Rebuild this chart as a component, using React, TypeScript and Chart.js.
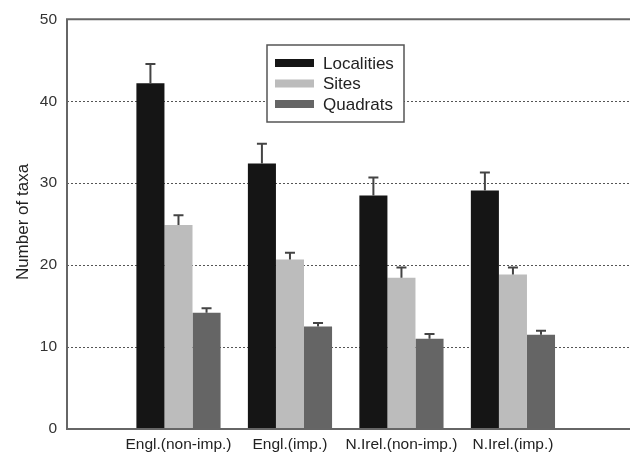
import React, { useEffect, useRef } from "react";
import { Chart, registerables } from "chart.js";

Chart.register(...registerables);

const categories = ["Engl.(non-imp.)", "Engl.(imp.)", "N.Irel.(non-imp.)", "N.Irel.(imp.)"];
const seriesNames = ["Localities", "Sites", "Quadrats"];
const localities = [42.2, 32.4, 28.5, 29.1];
const localitiesErr = [2.35, 2.4, 2.2, 2.2];
const sites = [24.9, 20.7, 18.45, 18.85];
const sitesErr = [1.2, 0.8, 1.25, 0.85];
const quadrats = [14.2, 12.5, 11.0, 11.5];
const quadratsErr = [0.55, 0.45, 0.6, 0.5];
const yTicks = [0, 10, 20, 30, 40, 50];
const gridValues = [10, 20, 30, 40];

const colors = ["#151515", "#bcbcbc", "#656565"];
const FONT = "Liberation Sans, Arial, sans-serif";

export default function App() {
  const ref = useRef<HTMLCanvasElement | null>(null);
  useEffect(() => {
    const canvas = ref.current;
    if (!canvas) return;
    const errs = [localitiesErr, sitesErr, quadratsErr];
    const mk = (arr: number[]) => arr.map((v, i) => ({ x: i + 1, y: v }));

    const decor = {
      id: "decor",
      beforeDatasetsDraw(chart: any) {
        const { ctx, chartArea } = chart;
        const y = chart.scales.y;
        ctx.save();
        ctx.strokeStyle = "#555";
        ctx.lineWidth = 1;
        ctx.setLineDash([2, 2]);
        gridValues.forEach((g) => {
          const py = Math.round(y.getPixelForValue(g)) + 0.5;
          ctx.beginPath();
          ctx.moveTo(chartArea.left, py);
          ctx.lineTo(chart.width, py);
          ctx.stroke();
        });
        ctx.restore();
      },
      afterDatasetsDraw(chart: any) {
        const { ctx, chartArea } = chart;
        const y = chart.scales.y;
        ctx.save();
        // error bars
        ctx.strokeStyle = "#444";
        ctx.lineWidth = 2;
        chart.data.datasets.forEach((ds: any, di: number) => {
          const meta = chart.getDatasetMeta(di);
          meta.data.forEach((bar: any, i: number) => {
            const v = ds.data[i].y;
            const top = y.getPixelForValue(v + errs[di][i]);
            const base = y.getPixelForValue(v);
            ctx.beginPath();
            ctx.moveTo(bar.x, base);
            ctx.lineTo(bar.x, top);
            ctx.moveTo(bar.x - 5, top);
            ctx.lineTo(bar.x + 5, top);
            ctx.stroke();
          });
        });
        // frame
        ctx.strokeStyle = "#666";
        ctx.lineWidth = 2;
        ctx.beginPath();
        ctx.moveTo(chart.width, chartArea.top);
        ctx.lineTo(chartArea.left, chartArea.top);
        ctx.lineTo(chartArea.left, chartArea.bottom);
        ctx.lineTo(chart.width, chartArea.bottom);
        ctx.stroke();
        // legend
        const lx = 267, ly = 45, lw = 137, lh = 77;
        ctx.fillStyle = "#fff";
        ctx.fillRect(lx, ly, lw, lh);
        ctx.strokeStyle = "#555";
        ctx.lineWidth = 1.5;
        ctx.strokeRect(lx, ly, lw, lh);
        ctx.font = `17px ${FONT}`;
        ctx.textBaseline = "middle";
        ctx.textAlign = "left";
        chart.data.datasets.forEach((ds: any, di: number) => {
          const cy = 63 + di * 20.5;
          ctx.fillStyle = ds.backgroundColor;
          ctx.fillRect(275, cy - 4, 39, 8);
          ctx.fillStyle = "#222";
          ctx.fillText(ds.label, 323, cy + 1);
        });
        // y title
        ctx.translate(23, 222);
        ctx.rotate(-Math.PI / 2);
        ctx.textAlign = "center";
        ctx.font = `17px ${FONT}`;
        ctx.fillStyle = "#222";
        ctx.fillText("Number of taxa", 0, 0);
        ctx.restore();
      },
    };

    const chart = new Chart(canvas, {
      type: "bar",
      data: {
        datasets: [localities, sites, quadrats].map((arr, di) => ({
          label: seriesNames[di],
          data: mk(arr),
          backgroundColor: colors[di],
          borderWidth: 0,
          categoryPercentage: 0.755,
          barPercentage: 1,
        })),
      },
      options: {
        animation: false,
        responsive: false,
        maintainAspectRatio: false,
        layout: { padding: { top: 16, right: 0, left: 0, bottom: 0 } },
        plugins: { legend: { display: false }, tooltip: { enabled: false } },
        scales: {
          x: {
            type: "linear",
            min: 0,
            max: 5.05,
            offset: false,
            grid: { display: false, drawTicks: false },
            border: { display: false },
            afterBuildTicks: (s: any) => {
              s.ticks = categories.map((_, i) => ({ value: i + 1 }));
            },
            afterFit: (s: any) => {
              s.height = 29;
            },
            ticks: {
              autoSkip: false,
              maxRotation: 0,
              padding: 6,
              color: "#222",
              font: { family: FONT, size: 15.5 },
              callback: (v: any) => categories[Number(v) - 1] ?? "",
            },
          },
          y: {
            min: 0,
            max: 50,
            grid: { display: false, drawTicks: false },
            border: { display: false },
            afterBuildTicks: (s: any) => {
              s.ticks = yTicks.map((v) => ({ value: v }));
            },
            afterFit: (s: any) => {
              s.width = 67;
            },
            ticks: {
              padding: 10,
              color: "#333",
              font: { family: FONT, size: 15.5 },
            },
          },
        },
      },
      plugins: [decor],
    } as any);
    return () => chart.destroy();
  }, []);
  return (
    <div style={{ position: "fixed", left: 0, top: 0, width: 630, height: 458, background: "#fff" }}>
      <canvas ref={ref} width={630} height={458} style={{ width: 630, height: 458 }} />
    </div>
  );
}
